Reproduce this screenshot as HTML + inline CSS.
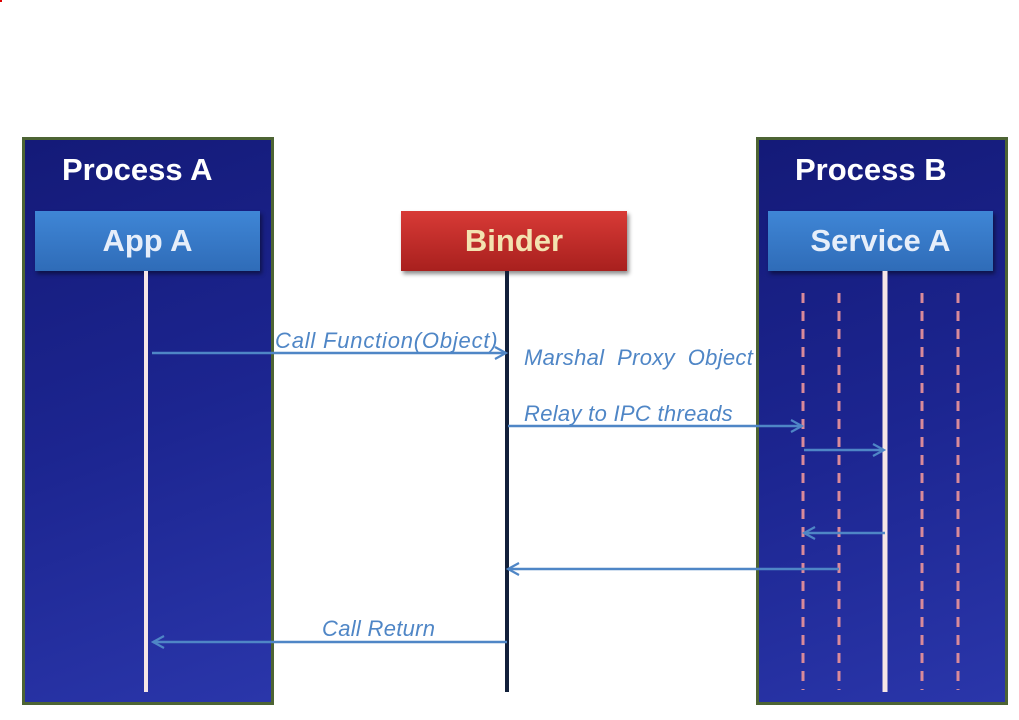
<!DOCTYPE html>
<html><head><style>
body{margin:0;width:1019px;height:720px;background:#fff;overflow:hidden;font-family:"Liberation Sans",sans-serif;position:relative}
.proc{position:absolute;top:137px;width:246px;height:562px;border:3px solid #4d6434;background:linear-gradient(160deg,#141a78 0%,#1c2590 50%,#2a36aa 100%);box-sizing:content-box}
.ptitle{position:absolute;color:#fff;font-weight:bold;font-size:31px;letter-spacing:0px}
.hdr{position:absolute;top:211px;height:60px;color:#fff;font-weight:bold;font-size:31px;text-align:center;line-height:60px;box-shadow:2px 3px 4px rgba(0,0,0,.45)}
.blue{background:linear-gradient(#3f86d6,#2f6cb8);color:#e6eefa}
.lbl{position:absolute;color:#4f86c6;font-style:italic;font-size:22px;white-space:nowrap;letter-spacing:0.3px}
</style></head><body>
<div style="position:absolute;left:0;top:0;width:2px;height:2px;background:#d00"></div>
<div class="proc" style="left:22px"></div>
<div class="proc" style="left:756px"></div>
<div class="ptitle" style="left:62px;top:152px">Process A</div>
<div class="ptitle" style="left:795px;top:152px">Process B</div>
<div class="hdr blue" style="left:35px;width:225px">App A</div>
<div class="hdr blue" style="left:768px;width:225px">Service A</div>
<div class="hdr" style="left:401px;width:226px;background:linear-gradient(#d83a36,#a8201e);color:#f3e3b0">Binder</div>
<svg width="1019" height="720" style="position:absolute;left:0;top:0">
<defs><marker id="a" markerWidth="14" markerHeight="14" refX="12" refY="7" orient="auto" markerUnits="userSpaceOnUse"><path d="M1,1 L12,7 L1,13" fill="none" stroke="#4f86c6" stroke-width="2.2"/></marker></defs>
<g stroke="#d98a9a" stroke-width="3" stroke-dasharray="10,8">
<line x1="803" y1="293" x2="803" y2="690"/><line x1="839" y1="293" x2="839" y2="690"/>
<line x1="922" y1="293" x2="922" y2="690"/><line x1="958" y1="293" x2="958" y2="690"/>
</g>
<line x1="146" y1="271" x2="146" y2="692" stroke="#f6e6e6" stroke-width="4"/>
<line x1="885" y1="271" x2="885" y2="692" stroke="#f6e6e6" stroke-width="5"/>
<line x1="507" y1="271" x2="507" y2="692" stroke="#12203a" stroke-width="4"/>
<g stroke="#4f86c6" stroke-width="2.5" fill="none" marker-end="url(#a)">
<line x1="152" y1="353" x2="506" y2="353"/>
<line x1="508" y1="426" x2="802" y2="426"/>
<line x1="804" y1="450" x2="884" y2="450"/>
<line x1="885" y1="533" x2="804" y2="533"/>
<line x1="839" y1="569" x2="508" y2="569"/>
<line x1="507" y1="642" x2="153" y2="642"/>
</g>
</svg>
<div class="lbl" style="left:275px;top:328px;letter-spacing:0.8px">Call Function(Object)</div>
<div class="lbl" style="left:524px;top:345px">Marshal&nbsp; Proxy&nbsp; Object</div>
<div class="lbl" style="left:524px;top:401px">Relay to IPC threads</div>
<div class="lbl" style="left:322px;top:616px">Call Return</div>
</body></html>
